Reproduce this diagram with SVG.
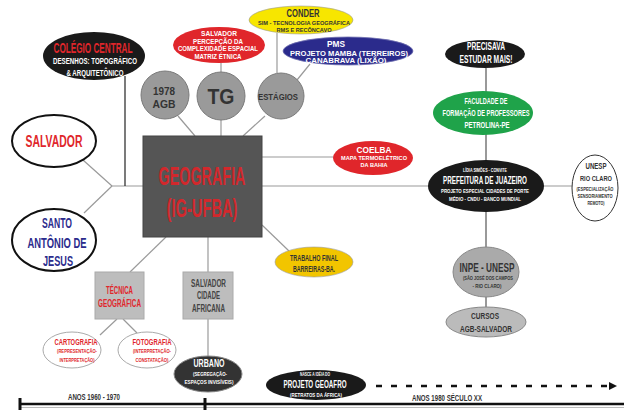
<svg xmlns="http://www.w3.org/2000/svg" width="624" height="410" viewBox="0 0 624 410">
<style>
text{font-family:"Liberation Sans","Arial",sans-serif;font-weight:bold;text-anchor:middle}
.c{stroke:#9a9a9a;stroke-width:1.2;fill:none}
.k{stroke:#222;stroke-width:1.2;fill:none}
.w{fill:#fff}
.r{fill:#e0262b}
.n{fill:#2b2b8c}
.g{fill:#333}
</style>
<defs>
<marker id="ah" markerWidth="8" markerHeight="8" refX="7" refY="4" orient="auto" markerUnits="userSpaceOnUse"><path d="M0,0 L8,4 L0,8 Z" fill="#111"/></marker>
</defs>
<rect width="624" height="410" fill="#fff"/>
<g id="connectors">
<line class="c" x1="112" y1="186" x2="575" y2="186"/>
<line class="c" x1="83" y1="160" x2="112" y2="186"/>
<line class="c" x1="84" y1="213" x2="112" y2="186"/>
<line class="k" x1="125" y1="76" x2="125" y2="186"/>
<line class="c" x1="178" y1="116" x2="195" y2="136"/>
<line class="c" x1="221" y1="120" x2="221" y2="136"/>
<line class="c" x1="265" y1="116" x2="243" y2="136"/>
<line class="c" x1="221" y1="63" x2="221" y2="72"/>
<line class="c" x1="277" y1="33" x2="277" y2="73"/>
<line class="c" x1="297" y1="80" x2="310" y2="64"/>
<line class="c" x1="262" y1="157" x2="334" y2="157"/>
<line class="c" x1="262" y1="225" x2="289" y2="251"/>
<line class="c" x1="166" y1="237" x2="130" y2="272"/>
<line class="c" x1="208" y1="237" x2="208" y2="272"/>
<line class="c" x1="208" y1="319" x2="208" y2="357"/>
<line class="c" x1="117" y1="319" x2="100" y2="335"/>
<line class="c" x1="123" y1="319" x2="137" y2="333"/>
<line stroke="#555" stroke-width="1.2" x1="486" y1="68" x2="486" y2="308"/>
<line stroke="#111" stroke-width="2.5" stroke-dasharray="6 9" x1="376" y1="386" x2="616" y2="386" marker-end="url(#ah)"/>
</g>
<g id="timeline">
<line stroke="#111" stroke-width="2.5" x1="19" y1="404" x2="624" y2="404"/>
<line stroke="#bbb" stroke-width="1" x1="19" y1="407.5" x2="624" y2="407.5"/>
<line stroke="#111" stroke-width="3" x1="20" y1="398" x2="20" y2="410"/>
<line stroke="#111" stroke-width="3" x1="205" y1="398" x2="205" y2="410"/>
<text x="94" y="400" font-size="9" class="g" textLength="52" lengthAdjust="spacingAndGlyphs">ANOS 1960 - 1970</text>
<text x="447" y="401" font-size="8.5" class="g" textLength="70" lengthAdjust="spacingAndGlyphs">ANOS 1980 SÉCULO XX</text>
</g>
<g id="geografia">
<rect x="143" y="136" width="119" height="101" fill="#555" stroke="#444"/>
<text x="202" y="185" font-size="25" fill="#d2282c" textLength="87" lengthAdjust="spacingAndGlyphs">GEOGRAFIA</text>
<text x="202" y="217" font-size="25" fill="#d2282c" textLength="71" lengthAdjust="spacingAndGlyphs">(IG-UFBA)</text>
</g>
<g id="colegio">
<ellipse cx="94" cy="56" rx="51" ry="24" fill="#1a1a1a"/>
<text x="93" y="53" font-size="14" class="r" textLength="79" lengthAdjust="spacingAndGlyphs">COLÉGIO CENTRAL</text>
<text x="95" y="64" font-size="9" class="w" textLength="84" lengthAdjust="spacingAndGlyphs">DESENHOS: TOPOGRÁFICO</text>
<text x="95" y="76" font-size="9" class="w" textLength="57" lengthAdjust="spacingAndGlyphs">&amp; ARQUITETÔNICO</text>
</g>
<g id="salvador">
<ellipse cx="54" cy="141" rx="42" ry="26" fill="#fff" stroke="#111" stroke-width="2"/>
<text x="54" y="147" font-size="16" class="r" textLength="57" lengthAdjust="spacingAndGlyphs">SALVADOR</text>
</g>
<g id="santo">
<ellipse cx="54" cy="240" rx="42" ry="31" fill="#fff" stroke="#111" stroke-width="2"/>
<text x="57" y="228" font-size="14" class="n" textLength="30" lengthAdjust="spacingAndGlyphs">SANTO</text>
<text x="57" y="248" font-size="14" class="n" textLength="59" lengthAdjust="spacingAndGlyphs">ANTÔNIO DE</text>
<text x="58" y="266" font-size="14" class="n" textLength="30" lengthAdjust="spacingAndGlyphs">JESUS</text>
</g>
<g id="agb">
<circle cx="165" cy="95" r="24" fill="#9a9a9a" stroke="#7a7a7a"/>
<text x="164" y="95" font-size="11.5" class="g" textLength="22" lengthAdjust="spacingAndGlyphs">1978</text>
<text x="164" y="108" font-size="11.5" class="g" textLength="23" lengthAdjust="spacingAndGlyphs">AGB</text>
</g>
<g id="tg">
<circle cx="221" cy="96" r="24" fill="#9a9a9a" stroke="#7a7a7a"/>
<text x="221" y="104" font-size="22" class="g" textLength="27" lengthAdjust="spacingAndGlyphs">TG</text>
</g>
<g id="estagios">
<circle cx="281" cy="96" r="23" fill="#9a9a9a" stroke="#7a7a7a"/>
<text x="278" y="100" font-size="9" class="g" textLength="40" lengthAdjust="spacingAndGlyphs">ESTÁGIOS</text>
</g>
<g id="salvador-percepcao">
<ellipse cx="219" cy="45" rx="46" ry="18" fill="#e0262b"/>
<text x="219" y="36" font-size="6.3" class="w" textLength="36" lengthAdjust="spacingAndGlyphs">SALVADOR</text>
<text x="218" y="43.5" font-size="6.3" class="w" textLength="50" lengthAdjust="spacingAndGlyphs">PERCEPÇÃO DA</text>
<text x="218" y="51" font-size="6.3" class="w" textLength="80" lengthAdjust="spacingAndGlyphs">COMPLEXIDADE ESPACIAL</text>
<text x="218" y="58.5" font-size="6.3" class="w" textLength="47" lengthAdjust="spacingAndGlyphs">MATRIZ ÉTNICA</text>
</g>
<g id="conder">
<ellipse cx="301" cy="20" rx="52" ry="14" fill="#f7e600" stroke="#999" stroke-width="0.6"/>
<text x="303" y="17" font-size="10" class="g" textLength="33" lengthAdjust="spacingAndGlyphs">CONDER</text>
<text x="304" y="24.5" font-size="6" class="g" textLength="92" lengthAdjust="spacingAndGlyphs">SIM - TECNOLOGIA GEOGRÁFICA</text>
<text x="304" y="31.5" font-size="6" class="g" textLength="55" lengthAdjust="spacingAndGlyphs">RMS E RECÔNCAVO</text>
</g>
<g id="pms">
<ellipse cx="348" cy="51" rx="65" ry="14" fill="#2b2b8c" stroke="#6f6fb0" stroke-width="0.8"/>
<text x="336" y="47" font-size="8.5" class="w" textLength="18" lengthAdjust="spacingAndGlyphs">PMS</text>
<text x="349" y="56" font-size="6.5" class="w" textLength="118" lengthAdjust="spacingAndGlyphs">PROJETO MAMBA (TERREIROS)</text>
<text x="346" y="63" font-size="6.5" class="w" textLength="81" lengthAdjust="spacingAndGlyphs">CANABRAVA (LIXÃO)</text>
</g>
<g id="coelba">
<ellipse cx="373" cy="158" rx="40" ry="17" fill="#e0262b"/>
<text x="374" y="153" font-size="9.5" class="w" textLength="35" lengthAdjust="spacingAndGlyphs">COELBA</text>
<text x="374" y="160" font-size="6" class="w" textLength="66" lengthAdjust="spacingAndGlyphs">MAPA TERMOELÉTRICO</text>
<text x="374" y="167" font-size="6" class="w" textLength="27" lengthAdjust="spacingAndGlyphs">DA BAHIA</text>
</g>
<g id="trabalho">
<ellipse cx="314" cy="262" rx="39" ry="15" fill="#f2c500" stroke="#999" stroke-width="0.6"/>
<text x="314" y="261" font-size="8.5" class="g" textLength="48" lengthAdjust="spacingAndGlyphs">TRABALHO FINAL</text>
<text x="314" y="272" font-size="8.5" class="g" textLength="42" lengthAdjust="spacingAndGlyphs">BARREIRAS-BA.</text>
</g>
<g id="tecnica">
<rect x="95" y="272" width="49" height="47" fill="#bdbdbd" stroke="#aaa"/>
<text x="119.5" y="294" font-size="10" class="r" textLength="27" lengthAdjust="spacingAndGlyphs">TÉCNICA</text>
<text x="119.5" y="307" font-size="10" class="r" textLength="43" lengthAdjust="spacingAndGlyphs">GEOGRÁFICA</text>
</g>
<g id="salvador-africana">
<rect x="183" y="272" width="50" height="47" fill="#bdbdbd" stroke="#aaa"/>
<text x="208.5" y="287" font-size="10.5" fill="#444" textLength="35" lengthAdjust="spacingAndGlyphs">SALVADOR</text>
<text x="208.5" y="299" font-size="10.5" fill="#444" textLength="23" lengthAdjust="spacingAndGlyphs">CIDADE</text>
<text x="208.5" y="312" font-size="10.5" fill="#444" textLength="33" lengthAdjust="spacingAndGlyphs">AFRICANA</text>
</g>
<g id="cartografia">
<ellipse cx="72" cy="350" rx="29" ry="18" fill="#fff" stroke="#aaa"/>
<text x="76" y="345" font-size="9.5" class="r" textLength="43" lengthAdjust="spacingAndGlyphs">CARTOGRAFIA</text>
<text x="77" y="353" font-size="5.5" class="r" textLength="40" lengthAdjust="spacingAndGlyphs">(REPRESENTAÇÃO-</text>
<text x="77" y="361.5" font-size="5.5" class="r" textLength="35" lengthAdjust="spacingAndGlyphs">INTERPRETAÇÃO)</text>
</g>
<g id="fotografia">
<ellipse cx="147" cy="350" rx="29" ry="18" fill="#fff" stroke="#aaa"/>
<text x="152" y="345" font-size="9.5" class="r" textLength="39" lengthAdjust="spacingAndGlyphs">FOTOGRAFIA</text>
<text x="152" y="353" font-size="5.5" class="r" textLength="38" lengthAdjust="spacingAndGlyphs">(INTERPRETAÇÃO-</text>
<text x="152" y="361.5" font-size="5.5" class="r" textLength="33" lengthAdjust="spacingAndGlyphs">CONSTATAÇÃO)</text>
</g>
<g id="urbano">
<ellipse cx="208" cy="374" rx="34" ry="18" fill="#333" stroke="#888"/>
<text x="209" y="367" font-size="11" class="w" textLength="31" lengthAdjust="spacingAndGlyphs">URBANO</text>
<text x="210" y="376" font-size="6" class="w" textLength="34" lengthAdjust="spacingAndGlyphs">(SEGREGAÇÃO-</text>
<text x="209" y="384" font-size="6" class="w" textLength="49" lengthAdjust="spacingAndGlyphs">ESPAÇOS INVISÍVEIS)</text>
</g>
<g id="geoafro">
<ellipse cx="316" cy="385" rx="50" ry="15" fill="#1a1a1a"/>
<text x="315" y="376" font-size="4.5" class="w" textLength="30" lengthAdjust="spacingAndGlyphs">NASCE A IDÉIA DO</text>
<text x="315" y="388" font-size="10.5" class="w" textLength="63" lengthAdjust="spacingAndGlyphs">PROJETO GEOAFRO</text>
<text x="316" y="397" font-size="5.5" class="w" textLength="52" lengthAdjust="spacingAndGlyphs">(RETRATOS DA ÁFRICA)</text>
</g>
<g id="precisava">
<ellipse cx="485" cy="54" rx="40" ry="14" fill="#1a1a1a"/>
<text x="486" y="50" font-size="10" class="w" textLength="38" lengthAdjust="spacingAndGlyphs">PRECISAVA</text>
<text x="486" y="63" font-size="10" class="w" textLength="53" lengthAdjust="spacingAndGlyphs">ESTUDAR MAIS!</text>
</g>
<g id="faculdade">
<ellipse cx="483" cy="113" rx="50" ry="22" fill="#1fa34a"/>
<text x="486" y="104" font-size="9" class="w" textLength="43" lengthAdjust="spacingAndGlyphs">FACULDADE DE</text>
<text x="486" y="116" font-size="9" class="w" textLength="87" lengthAdjust="spacingAndGlyphs">FORMAÇÃO DE PROFESSORES</text>
<text x="487" y="128" font-size="9" class="w" textLength="45" lengthAdjust="spacingAndGlyphs">PETROLINA-PE</text>
</g>
<g id="prefeitura">
<ellipse cx="486" cy="186" rx="58" ry="26" fill="#1a1a1a"/>
<text x="485" y="172" font-size="4.5" class="w" textLength="44" lengthAdjust="spacingAndGlyphs">LÍDIA SIMÕES - CONVITE</text>
<text x="485" y="184" font-size="11" class="w" textLength="84" lengthAdjust="spacingAndGlyphs">PREFEITURA DE JUAZEIRO</text>
<text x="485" y="193" font-size="6" class="w" textLength="88" lengthAdjust="spacingAndGlyphs">PROJETO ESPECIAL CIDADES DE PORTE</text>
<text x="485" y="201" font-size="6" class="w" textLength="72" lengthAdjust="spacingAndGlyphs">MÉDIO - CNDU - BANCO MUNDIAL</text>
</g>
<g id="unesp">
<ellipse cx="595" cy="188" rx="23" ry="33" fill="#fff" stroke="#333"/>
<text x="596" y="169" font-size="8.5" class="g" textLength="21" lengthAdjust="spacingAndGlyphs">UNESP</text>
<text x="596" y="181" font-size="8" class="g" textLength="32" lengthAdjust="spacingAndGlyphs">RIO CLARO</text>
<text x="595" y="191" font-size="5" class="g" textLength="37" lengthAdjust="spacingAndGlyphs">(ESPECIALIZAÇÃO</text>
<text x="595" y="198" font-size="5" class="g" textLength="35" lengthAdjust="spacingAndGlyphs">SENSORIAMENTO</text>
<text x="596" y="205" font-size="5" class="g" textLength="17" lengthAdjust="spacingAndGlyphs">REMOTO)</text>
</g>
<g id="inpe">
<ellipse cx="486" cy="272" rx="33" ry="25" fill="#aaa" stroke="#888"/>
<text x="487" y="272" font-size="13" class="g" textLength="55" lengthAdjust="spacingAndGlyphs">INPE - UNESP</text>
<text x="488" y="280" font-size="5.5" class="g" textLength="50" lengthAdjust="spacingAndGlyphs">(SÃO JOSÉ DOS CAMPOS</text>
<text x="487" y="288" font-size="5.5" class="g" textLength="29" lengthAdjust="spacingAndGlyphs">- RIO CLARO)</text>
</g>
<g id="cursos">
<ellipse cx="486" cy="322" rx="40" ry="15" fill="#bbb" stroke="#888"/>
<text x="485" y="319" font-size="9" class="g" textLength="28" lengthAdjust="spacingAndGlyphs">CURSOS</text>
<text x="486" y="332" font-size="9" class="g" textLength="52" lengthAdjust="spacingAndGlyphs">AGB-SALVADOR</text>
</g>
</svg>
